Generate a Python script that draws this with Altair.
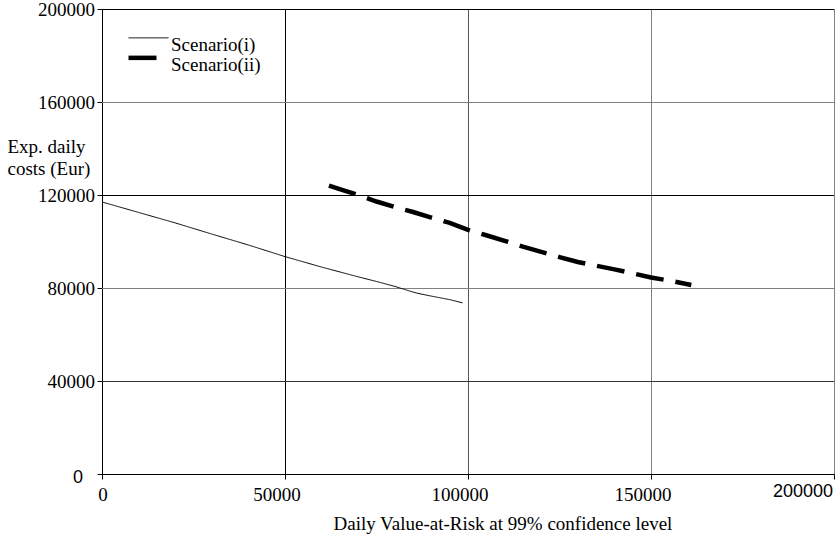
import altair as alt
import pandas as pd

# Expected daily costs against daily VaR for the two scenarios
var_i = [0, 10000, 20000, 30000, 40000, 50000, 60000, 70000, 75000, 80000,
         83000, 86000, 90000, 95000, 98500]
cost_i = [117000, 112500, 108000, 103200, 98500, 93500, 89000, 84800, 82800,
          80700, 79200, 77800, 76500, 75000, 73600]

var_ii = [62000, 66000, 70000, 75000, 80000, 85000, 90000, 95000, 100000,
          105000, 110000, 115000, 120000, 125000, 130000, 135000, 140000,
          145000, 150000, 155000, 161000]
cost_ii = [124000, 122000, 120000, 117200, 114800, 112700, 110300, 108000,
           105000, 102700, 100300, 97800, 95500, 93300, 91200, 89600, 88000,
           86300, 84500, 83200, 81300]

series = ["Scenario(i)", "Scenario(ii)"]
x_ticks = [0, 50000, 100000, 150000, 200000]
y_ticks = [0, 40000, 80000, 120000, 160000, 200000]

# gridline shades, one per tick
x_grid_shades = ["#000000", "#000000", "#555555", "#808080", "#808080"]
y_grid_shades = ["#000000", "#333333", "#808080", "#000000", "#808080", "#000000"]

df = pd.concat([
    pd.DataFrame({"var": var_i, "cost": cost_i, "series": series[0], "order": range(len(var_i))}),
    pd.DataFrame({"var": var_ii, "cost": cost_ii, "series": series[1], "order": range(len(var_ii))}),
])
x_grid = pd.DataFrame({"var": x_ticks, "shade": x_grid_shades})
y_grid = pd.DataFrame({"cost": y_ticks, "shade": y_grid_shades})


def label_table(xs, ys, values):
    return pd.DataFrame({"var": xs, "cost": ys, "label": [str(v) for v in values]})


# tick labels: first, inner and last (sans) x labels; inner y labels and the y zero (sans)
x_first_df = label_table(x_ticks[:1], y_ticks[:1], x_ticks[:1])
x_mid_df = label_table(x_ticks[1:-1], [y_ticks[0]] * 3, x_ticks[1:-1])
x_last_df = label_table(x_ticks[-1:], y_ticks[:1], x_ticks[-1:])
y_mid_df = label_table([x_ticks[0]] * 5, y_ticks[1:], y_ticks[1:])
y_zero_df = label_table(x_ticks[:1], y_ticks[:1], y_ticks[:1])

serif = "Liberation Serif"
sans = "Liberation Sans"

x_axis = alt.Axis(
    values=x_ticks, grid=False, labels=False,
    title="Daily Value-at-Risk at 99% confidence level",
    titleFont=serif, titleFontSize=19, titleFontWeight="normal", titleColor="black",
    titleAnchor="start", titleAlign="left", titleX=231, titleY=49, titleBaseline="middle",
    tickSize=5, tickColor="black", domainColor="black",
)

y_axis = alt.Axis(
    values=y_ticks, grid=False, labels=False,
    title=["Exp. daily", "costs (Eur)"],
    titleFont=serif, titleFontSize=19, titleFontWeight="normal", titleColor="black",
    titleAngle=0, titleAlign="left", titleAnchor="start", titleBaseline="top",
    titleX=-95, titleY=128, titleLineHeight=22,
    tickSize=5, tickColor="black", domainColor="black",
)

x_enc = alt.X("var:Q", scale=alt.Scale(domain=[0, 200000], nice=False), axis=x_axis)
y_enc = alt.Y("cost:Q", scale=alt.Scale(domain=[0, 200000], nice=False), axis=y_axis)

# Legend key: a long horizontal stroke drawn above the label's centre line
key_path = "M-2,-0.95H3.714"
legend = alt.Legend(
    title=None, orient="none", legendX=31, legendY=26,
    symbolType=key_path, symbolSize=14 * 14, symbolStrokeColor="black",
    labelFont=serif, labelFontSize=19, labelColor="black",
    labelBaseline="middle", labelOffset=19, rowPadding=-14, padding=0,
)

x_rules = alt.Chart(x_grid).mark_rule(strokeWidth=1, xOffset=0.5).encode(
    x=x_enc, color=alt.Color("shade:N", scale=None),
)
y_rules = alt.Chart(y_grid).mark_rule(strokeWidth=1, yOffset=0.5).encode(
    y=y_enc, color=alt.Color("shade:N", scale=None),
)

lines = alt.Chart(df).mark_line(color="black", strokeCap="butt").encode(
    x=x_enc,
    y=y_enc,
    strokeDash=alt.StrokeDash("series:N", scale=alt.Scale(domain=series, range=[[1, 0], [28, 12]]), legend=legend),
    strokeWidth=alt.StrokeWidth("series:N", scale=alt.Scale(domain=series, range=[1, 4.5]), legend=legend),
    order="order:Q",
)


def tick_labels(data, **style):
    return alt.Chart(data).mark_text(color="black", **style).encode(
        x=x_enc, y=y_enc, text="label:N"
    )


x_first_labels = tick_labels(x_first_df, font=serif, fontSize=19, align="center", baseline="top", dx=1, dy=12)
x_mid_labels = tick_labels(x_mid_df, font=serif, fontSize=19, align="center", baseline="top", dx=-8, dy=12)
x_last_labels = tick_labels(x_last_df, font=sans, fontSize=18, align="right", baseline="top", dx=-1, dy=9)
y_mid_labels = tick_labels(y_mid_df, font=serif, fontSize=19, align="right", baseline="middle", dx=-7, dy=1)
y_zero_labels = tick_labels(y_zero_df, font=sans, fontSize=18, align="right", baseline="middle", dx=-19, dy=4)

chart = alt.layer(
    x_rules, y_rules, lines,
    x_first_labels, x_mid_labels, x_last_labels, y_mid_labels, y_zero_labels,
).properties(
    width=732, height=465,
    padding={"left": 102, "top": 9, "right": 2, "bottom": 64},
    autosize=alt.AutoSizeParams(type="none"),
    background="white",
).configure_view(
    stroke=None
)

chart.save("out.html", embed_options={"renderer": "svg", "actions": False})
